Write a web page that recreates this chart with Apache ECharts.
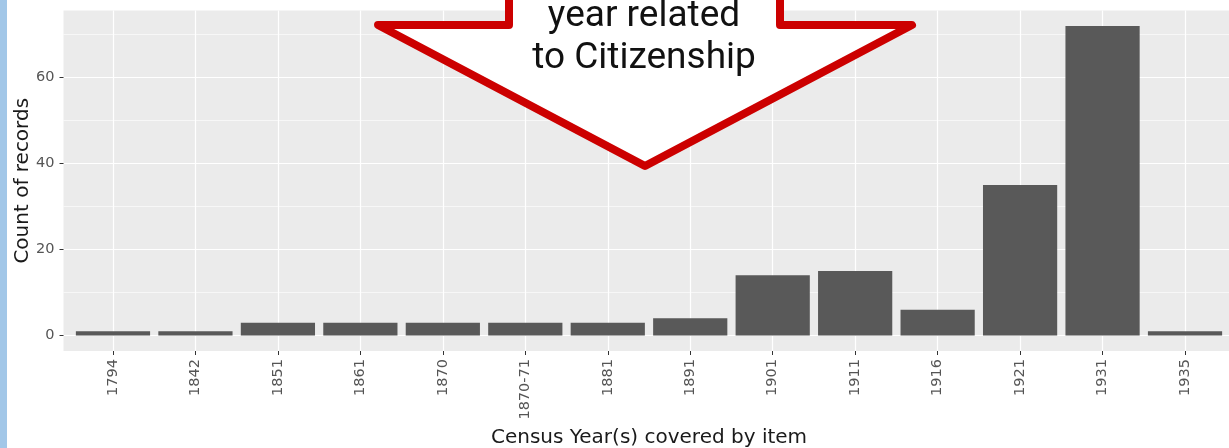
<!DOCTYPE html>
<html>
<head>
<meta charset="utf-8">
<script src="https://cdn.jsdelivr.net/npm/echarts@6/dist/echarts.min.js"></script>
<style>
  html, body { margin: 0; padding: 0; background: #ffffff; }
  #chart { width: 1229px; height: 448px; }
</style>
</head>
<body>
<div id="chart"></div>
<script>
// ---- data ----
const categories = ['1794', '1842', '1851', '1861', '1870', '1870-71', '1881', '1891', '1901', '1911', '1916', '1921', '1931', '1935'];
const counts = [1, 1, 3, 3, 3, 3, 3, 4, 14, 15, 6, 35, 72, 1];
const yTicks = [0, 20, 40, 60];
const xTitle = 'Census Year(s) covered by item';
const yTitle = 'Count of records';
const calloutLines = ['year related', 'to Citizenship'];

const catIdx = categories.map((c, i) => i);
const barData = counts.map((v, i) => [i, v]);

const chart = echarts.init(document.getElementById('chart'), null, { renderer: 'canvas' });

const labelFont = { fontFamily: 'DejaVu Sans', fontSize: 14.5, color: '#555555' };
const titleFont = { fontFamily: 'DejaVu Sans', fontSize: 20, color: '#1a1a1a' };

chart.setOption({
  animation: false,
  backgroundColor: '#ffffff',
  grid: {
    left: 63.5, top: 10.5, width: 1171, height: 340.5,
    show: true, backgroundColor: '#ebebeb', borderWidth: 0,
    containLabel: false, outerBoundsMode: 'none'
  },
  xAxis: {
    type: 'value',
    min: -0.6, max: 13.6,
    splitNumber: 14,
    name: xTitle,
    nameLocation: 'middle',
    nameGap: 75,
    nameTextStyle: titleFont,
    axisLine: { show: false, onZero: false },
    axisTick: { show: true, length: 4, lineStyle: { color: '#333333', width: 1 }, customValues: catIdx },
    axisLabel: {
      ...labelFont,
      rotate: 90, margin: 8,
      customValues: catIdx,
      formatter: v => (Number.isInteger(v) && v >= 0 && v < categories.length) ? categories[v] : ''
    },
    splitLine: { show: true, lineStyle: { color: '#ffffff', width: 1.2 } }
  },
  yAxis: {
    type: 'value',
    min: -3.6, max: 75.6,
    name: yTitle,
    nameLocation: 'middle',
    nameGap: 31,
    nameMoveOverlap: false,
    nameRotate: 90,
    nameTextStyle: titleFont,
    axisLine: { show: false, onZero: false },
    axisTick: { show: true, length: 4, lineStyle: { color: '#333333', width: 1 }, customValues: yTicks },
    axisLabel: {
      ...labelFont,
      margin: 9,
      customValues: yTicks,
      formatter: v => yTicks.includes(v) ? String(v) : ''
    },
    minorTick: { show: false, splitNumber: 2 },
    splitLine: { show: true, lineStyle: { color: '#ffffff', width: 1.2 } },
    minorSplitLine: { show: true, lineStyle: { color: '#ffffff', width: 0.6 } }
  },
  series: [{
    type: 'custom',
    data: barData,
    renderItem: function (params, api) {
      const x = api.value(0), y = api.value(1);
      const p0 = api.coord([x - 0.45, y]);
      const p1 = api.coord([x + 0.45, 0]);
      return {
        type: 'rect',
        shape: { x: p0[0], y: p0[1], width: p1[0] - p0[0], height: p1[1] - p0[1] },
        style: { fill: '#595959' }
      };
    },
    z: 5
  }],
  graphic: [
    { type: 'rect', left: 0, top: 0, shape: { width: 7, height: 448 }, style: { fill: '#a2c7e8' }, z: 50 },
    {
      type: 'polygon', z: 100,
      shape: { points: [[509, -30], [509, 25], [378, 25], [645, 166], [912, 25], [780, 25], [780, -30]] },
      style: { fill: '#ffffff', stroke: '#cc0000', lineWidth: 8, lineJoin: 'round' }
    },
    { type: 'text', z: 101, x: 644, y: 16.5, style: { text: calloutLines[0], font: '37px Roboto', fill: '#111111', textAlign: 'center', textVerticalAlign: 'middle' } },
    { type: 'text', z: 101, x: 644, y: 58.5, style: { text: calloutLines[1], font: '37px Roboto', fill: '#111111', textAlign: 'center', textVerticalAlign: 'middle' } }
  ]
});
</script>
</body>
</html>
